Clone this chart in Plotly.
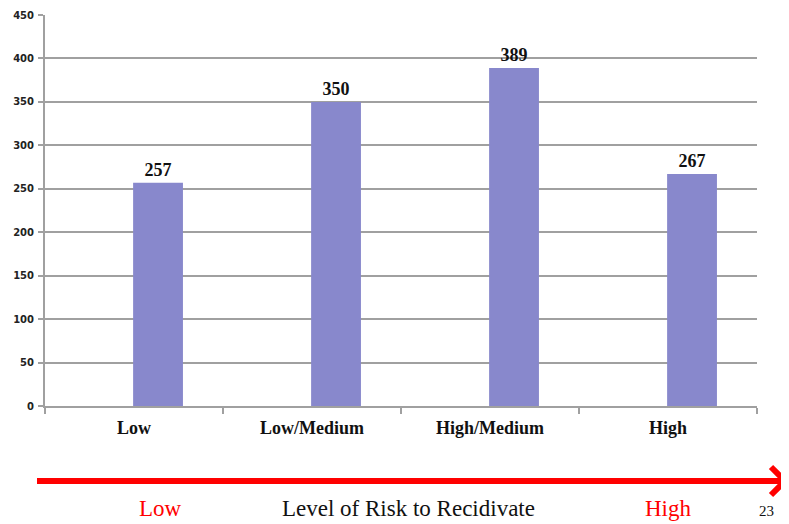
import plotly.graph_objects as go

categories = ["Low", "Low/Medium", "High/Medium", "High"]
values = [257, 350, 389, 267]
y_ticks = [0, 50, 100, 150, 200, 250, 300, 350, 400, 450]

# the page body has an 8px default margin; size the figure to fit the window
O = 8
W, H = 789 - O, 524 - O
L, R, T, B = 45 - O, 32, 15 - O, 118
PW, PH = W - L - R, H - T - B


def px(x):
    return (x - O - L) / PW


def py(y):
    return (H - B - (y - O)) / PH


fig = go.Figure()
fig.add_trace(go.Bar(
    x=categories, y=values,
    marker=dict(color="#8888CC", line=dict(width=0)),
    text=[str(v) for v in values],
    textposition="outside",
    textfont=dict(family="Liberation Serif", size=18, color="#111111", weight="bold"),
    cliponaxis=False,
    width=0.28,
    offset=-0.005,
))

fig.update_layout(
    width=W, height=H,
    margin=dict(l=L, r=R, t=T, b=B, autoexpand=False),
    paper_bgcolor="white", plot_bgcolor="white",
    showlegend=False,
    xaxis=dict(
        type="category",
        automargin=False,
        range=[-0.5, 3.5],
        showgrid=False,
        showline=True, linecolor="#A0A0A0", linewidth=2,
        ticks="outside", tickson="boundaries", ticklen=6, tickcolor="#A0A0A0", tickwidth=2,
        tickfont=dict(family="Liberation Serif", size=18, color="#111111", weight="bold"),
        ticklabelstandoff=4,
    ),
    yaxis=dict(
        range=[0, 450],
        automargin=False,
        tickvals=y_ticks,
        showgrid=True, gridcolor="#A0A0A0", gridwidth=2,
        showline=True, linecolor="#A0A0A0", linewidth=2,
        ticks="outside", ticklen=5, tickcolor="#A0A0A0", tickwidth=2,
        tickfont=dict(family="DejaVu Sans", size=10, color="#222222", weight="bold"),
        zeroline=False,
        ticklabelstandoff=2,
    ),
)

# Red arrow
fig.add_shape(type="line", xref="paper", yref="paper",
              x0=px(37), y0=py(481), x1=px(784), y1=py(481),
              line=dict(color="#FF0000", width=6))
fig.add_shape(type="path", xref="paper", yref="paper",
              path=f"M {px(771)} {py(467)} L {px(785)} {py(481)} L {px(771)} {py(495)}",
              line=dict(color="#FF0000", width=6))

bottom_texts = [
    ("Low", 160, "#FF0000", 23),
    ("Level of Risk to Recidivate", 408, "#111111", 23),
    ("High", 668, "#FF0000", 23),
    ("23", 766, "#111111", 15),
]
for txt, cx, col, size in bottom_texts:
    fig.add_annotation(text=txt, xref="paper", yref="paper",
                       x=px(cx), y=py(508 if size > 20 else 511),
                       xanchor="center", yanchor="middle", showarrow=False,
                       font=dict(family="Liberation Serif", size=size, color=col))

fig.write_html("out.html")
